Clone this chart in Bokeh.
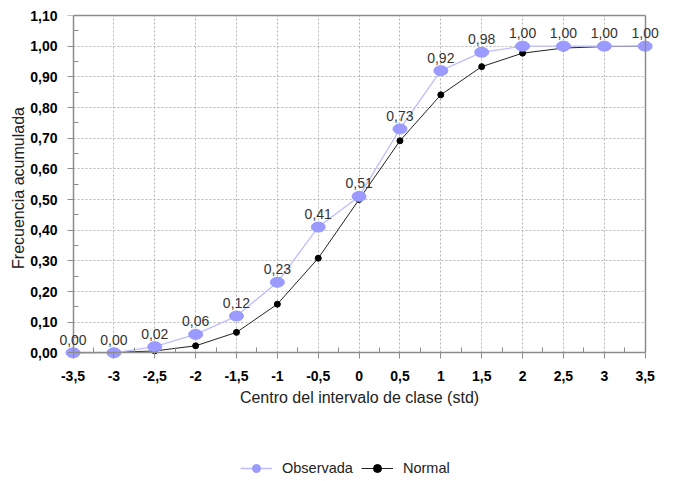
from bokeh.plotting import figure
from bokeh.layouts import column
from bokeh.models import (ColumnDataSource, FixedTicker, Legend, LegendItem, LabelSet,
                          LinearAxis, BoxAnnotation)
from bokeh.core.properties import value
from bokeh.embed import file_html
from bokeh.resources import INLINE

# Class-interval centres (in standard deviations)
centros = [-3.5, -3.0, -2.5, -2.0, -1.5, -1.0, -0.5, 0.0, 0.5, 1.0, 1.5, 2.0, 2.5, 3.0, 3.5]
# Observed cumulative frequency
observada = [0.00, 0.00, 0.02, 0.06, 0.12, 0.23, 0.41, 0.51, 0.73, 0.92, 0.98, 1.00, 1.00, 1.00, 1.00]
# Cumulative frequency of the normal distribution
normal = [0.0002, 0.0013, 0.0062, 0.0228, 0.0668, 0.1587, 0.3085, 0.5000,
          0.6915, 0.8413, 0.9332, 0.9772, 0.9938, 0.9987, 0.9998]

x_ticks = [-3.5, -3.0, -2.5, -2.0, -1.5, -1.0, -0.5, 0.0, 0.5, 1.0, 1.5, 2.0, 2.5, 3.0, 3.5]
x_tick_labels = ["-3,5", "-3", "-2,5", "-2", "-1,5", "-1", "-0,5", "0", "0,5", "1", "1,5", "2", "2,5", "3", "3,5"]
y_ticks = [0.0, 0.1, 0.2, 0.3, 0.4, 0.5, 0.6, 0.7, 0.8, 0.9, 1.0, 1.1]
y_tick_labels = ["0,00", "0,10", "0,20", "0,30", "0,40", "0,50", "0,60", "0,70", "0,80", "0,90", "1,00", "1,10"]
x_minor = [-3.25 + 0.5 * i for i in range(14)]
y_minor = [0.05 + 0.1 * i for i in range(11)]

FONT = "Liberation Sans"
OBS_FILL = "#9a9aff"
OBS_LINE = "#bdbdff"
NOR_COLOR = "#222222"
FRAME = "#8c8c8c"

x0, x1 = x_ticks[0], x_ticks[-1]
y0, y1 = y_ticks[0], y_ticks[-1]

src = ColumnDataSource(dict(
    x=centros,
    obs=observada,
    nor=normal,
    lbl=[f"{v:.2f}".replace(".", ",") for v in observada],
))

# The frame is a little wider/lower than the data box so the end labels and
# markers are not clipped; axis lines are pinned to the data box edges.
p = figure(width=675, height=450, output_backend="svg", toolbar_location=None,
           x_range=(x0 - 0.19, x1 + 0.2), y_range=(y0 - 0.025, y1),
           min_border_left=57, min_border_right=14, min_border_top=15,
           min_border_bottom=90)
p.background_fill_color = "white"
p.border_fill_color = "white"
p.outline_line_color = None

# grid
for g in (p.xgrid, p.ygrid):
    g.grid_line_color = "#b4b4b4"
    g.grid_line_dash = "2 2"
    g.grid_line_width = 1
p.xgrid.ticker = FixedTicker(ticks=x_ticks)
p.ygrid.ticker = FixedTicker(ticks=y_ticks)

# blank out grid lines outside the data box
for box in (BoxAnnotation(right=x0), BoxAnnotation(left=x1), BoxAnnotation(top=y0)):
    box.fill_color = "white"
    box.fill_alpha = 1
    box.line_color = None
    box.level = "underlay"
    p.add_layout(box)

# label-only axes on the frame edges
xa, ya = p.xaxis[0], p.yaxis[0]
xa.ticker = FixedTicker(ticks=x_ticks)
ya.ticker = FixedTicker(ticks=y_ticks)
xa.major_label_overrides = dict(zip(x_ticks, x_tick_labels))
ya.major_label_overrides = dict(zip(y_ticks, y_tick_labels))
for ax in (xa, ya):
    ax.axis_line_color = None
    ax.major_tick_line_color = None
    ax.minor_tick_line_color = None
    ax.major_tick_out = 0
    ax.major_tick_in = 0
    ax.minor_tick_in = 0
    ax.minor_tick_out = 0
    ax.major_label_text_font = FONT
    ax.major_label_text_font_style = "bold"
    ax.major_label_text_font_size = "14px"
    ax.major_label_text_color = "#000000"
    ax.axis_label_text_font = FONT
    ax.axis_label_text_font_style = "normal"
    ax.axis_label_text_font_size = "16px"
    ax.axis_label_text_color = "#222222"
xa.major_label_standoff = 10
ya.major_label_standoff = 0
xa.axis_label = "Centro del intervalo de clase (std)"
ya.axis_label = "Frecuencia acumulada"
xa.axis_label_standoff = 5
ya.axis_label_standoff = 0


def line_axis(side, loc, ticks, minor, bounds):
    """Axis line with ticks drawn on an edge of the data box (no labels)."""
    ax = LinearAxis(ticker=FixedTicker(ticks=ticks, minor_ticks=minor),
                    fixed_location=loc, bounds=bounds,
                    axis_line_color=FRAME, axis_line_width=1.5,
                    major_tick_line_color=FRAME, minor_tick_line_color=FRAME,
                    major_tick_in=6, major_tick_out=0,
                    minor_tick_in=0, minor_tick_out=5,
                    major_label_standoff=0,
                    major_label_overrides={t: "" for t in ticks})
    p.add_layout(ax, side)


# top edge (on the frame), then right edge, y-axis line and x-axis line
p.add_layout(LinearAxis(ticker=FixedTicker(ticks=[]), bounds=(x0, x1),
                        axis_line_color=FRAME, axis_line_width=1.5,
                        major_tick_out=0, major_tick_in=0,
                        minor_tick_out=0, minor_tick_in=0, major_label_standoff=0), "above")
line_axis("right", x1, [], [], (y0, y1))
line_axis("right", x0, y_ticks, y_minor, (y0, y1))
line_axis("above", y0, x_ticks, x_minor, (x0, x1))

# Normal series
p.line("x", "nor", source=src, line_color=NOR_COLOR, line_width=1)
p.scatter("x", "nor", source=src, size=6, fill_color="black", line_color="black")

# Observed series
p.line("x", "obs", source=src, line_color=OBS_LINE, line_width=1.3)
p.ellipse("x", "obs", source=src, width=14, height=10,
          width_units="screen", height_units="screen",
          fill_color=OBS_FILL, line_color=OBS_FILL)

# value labels above the observed points
labels = LabelSet(x="x", y="obs", text="lbl", source=src, text_align="center",
                  text_baseline="bottom", y_offset=8, text_font=value(FONT),
                  text_font_size="14px", text_color="#333333")
p.add_layout(labels)

# Legend strip under the chart (its sample glyphs sit outside the visible range)
leg_fig = figure(width=675, height=31, output_backend="svg", toolbar_location=None,
                 x_range=(0, 1), y_range=(0, 1), x_axis_type=None, y_axis_type=None,
                 min_border=0)
leg_fig.outline_line_color = None
leg_fig.background_fill_color = "white"
leg_fig.border_fill_color = "white"
hidden = ColumnDataSource(dict(x=[-1.0], y=[-1.0]))
l_obs = leg_fig.line("x", "y", source=hidden, line_color=OBS_LINE, line_width=1.3)
m_obs = leg_fig.scatter("x", "y", source=hidden, size=9,
                        fill_color=OBS_FILL, line_color=OBS_FILL)
l_nor = leg_fig.line("x", "y", source=hidden, line_color=NOR_COLOR, line_width=1)
m_nor = leg_fig.scatter("x", "y", source=hidden, size=5, fill_color="black", line_color="black")

legend = Legend(items=[
    LegendItem(label="Observada", renderers=[l_obs, m_obs]),
    LegendItem(label="Normal", renderers=[l_nor, m_nor]),
], orientation="horizontal", location=(183, 3))
legend.label_text_font = FONT
legend.label_text_font_size = "14.5px"
legend.label_text_color = "#222222"
legend.border_line_color = None
legend.background_fill_alpha = 0
legend.glyph_width = 32
legend.label_standoff = 10
legend.spacing = 8
legend.margin = 0
legend.padding = 0
leg_fig.add_layout(legend, "center")

open("out.html", "w").write(file_html(column(p, leg_fig), INLINE))
